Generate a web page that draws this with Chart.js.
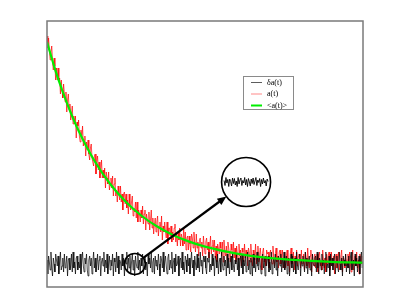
<!DOCTYPE html>
<html>
<head>
<meta charset="utf-8">
<script src="https://cdn.jsdelivr.net/npm/chart.js@4"></script>
<style>
  body { margin: 0; background: #fff; }
  canvas { display: block; }
</style>
</head>
<body>
<canvas id="c" width="400" height="300"></canvas>
<script>
// 時間軸（1点あたりの刻み）
const tStep = 2.5;

// δa(t) : ゆらぎ成分
const deltaA = [
  0.2,-0.5,0.4,0.1,-0.3,0.6,-0.2,-0.6,0.3,0.0,
  -0.4,0.5,0.2,-0.1,0.4,-0.5,0.1,0.6,-0.3,-0.1,
  0.3,-0.4,0.5,-0.2,0.0,0.4,-0.6,0.2,0.3,-0.3,
  -0.1,0.5,-0.4,0.6,-0.2,0.1,-0.5,0.3,0.4,-0.3,
  0.1,-0.2,0.5,-0.5,0.2,0.6,-0.1,-0.4,0.3,0.0,
  0.5,-0.3,-0.6,0.2,0.4,-0.1,0.3,-0.5,0.1,0.6,
  -0.2,0.3,-0.4,0.0,0.5,-0.3,0.2,0.4,-0.6,0.1,
  0.3,-0.1,0.6,-0.4,0.2,-0.2,0.5,-0.5,0.0,0.4,
  -0.3,0.2,-0.1,0.5,-0.6,0.3,0.1,-0.4,0.6,-0.2,
  0.4,-0.5,0.2,0.1,-0.3,0.5,-0.1,0.3,-0.6,0.2,
  0.0,0.6,-0.4,0.3,-0.2,0.4,-0.5,0.1,0.5,-0.3,
  0.2,-0.6,0.4,0.0,-0.2,0.6,-0.3,0.2,-0.4,0.3,
  -0.1,0.5,-0.5,0.2,0.4,-0.3,0.1,-0.6,0.5,0.0,
  0.3,-0.2,0.6,-0.4,0.1,0.3,-0.5,0.4,-0.1,0.2,
  -0.3,0.5,0.0,-0.6,0.4,0.2,-0.2,0.6,-0.4,0.1,
  0.4,-0.1,-0.5,0.3,0.5,-0.3,0.2,-0.2,0.6,-0.5,
  0.1,0.3,-0.4,0.5,-0.1,0.0,0.4,-0.6,0.2,0.3,
  -0.2,0.6,-0.3,0.1,-0.5,0.4,0.2,-0.4,0.5,-0.1,
  0.3,-0.5,0.1,0.6,-0.2,0.2,-0.6,0.4,0.0,-0.3,
  0.5,-0.2,0.3,-0.4,0.6,-0.1,0.2,-0.5,0.4,0.1,
  0.4,-0.2,-0.5,0.3,0.1,0.6,-0.4,0.0,-0.3,0.5,
  -0.1,0.3,-0.6,0.4,0.2,-0.2,0.5,-0.5,0.1,0.3,
  -0.4,0.6,0.0,-0.3,0.4,-0.1,0.2,-0.6,0.5,-0.2,
  0.3,-0.5,0.1,0.4,-0.3,0.6,-0.1,-0.4,0.2,0.0,
  0.5,-0.3,0.3,-0.6,0.1,0.4,-0.2,0.5,-0.5,0.2,
  -0.1,0.4,-0.4,0.0,0.6,-0.3,0.2,-0.5,0.3,0.1,
  -0.6,0.5,-0.2,0.3,-0.4,0.1,0.6,-0.1,-0.3,0.4,
  0.0,-0.5,0.2,0.5,-0.2,0.3,-0.6,0.4,-0.1,0.2,
  0.4,-0.4,0.1,-0.3,0.6,-0.5,0.0,0.3,-0.2,0.5,
  -0.3,0.2,-0.6,0.4,0.1,-0.1,0.5,-0.4,0.3,-0.2,
  0.6,-0.3,0.0,0.4,-0.5,0.2,0.3,-0.6,0.1,0.5,
  -0.2,0.4,-0.4,0.1,0.3,-0.5,0.6,-0.1,-0.3,0.2,
  0.5,-0.6,0.2,-0.1,0.4,0.0,-0.4,0.6,-0.2,0.3,
  -0.5,0.1,0.4,-0.3,0.2,-0.6,0.5,0.0,-0.1,0.3,
  0.4,-0.4,0.6,-0.2,-0.5,0.3,0.1,-0.3,0.5,-0.1,
  0.2,-0.5,0.3,0.6,-0.4,0.0,-0.2,0.4,-0.6,0.5,
  -0.1,0.3,-0.3,0.2,0.5,-0.5,0.1,0.4,-0.2,-0.4,
  0.6,0.0,-0.3,0.3,-0.6,0.4,0.2,-0.1,0.5,-0.4,
  0.1,-0.2,0.4,-0.5,0.3,0.6,-0.3,0.0,0.2,-0.6,
  0.5,-0.1,0.3,-0.4,0.0,0.4,-0.5,0.2,0.6,-0.2
];

// a(t) : 生データ
const aVals = [
  11.4,10.8,11.3,10.7,10.2,10.6,10.9,10.1,9.7,10.3,9.9,9.2,9.8,9.2,9.8,9.1,9.3,8.5,9.2,8.7,
  8.3,9.0,8.5,8.1,8.6,7.6,8.2,8.5,7.7,8.0,7.2,7.5,7.9,7.0,7.4,7.0,7.4,6.3,7.1,6.9,
  7.2,6.4,6.1,6.7,6.3,6.9,5.9,6.2,6.4,5.4,6.1,5.7,6.2,5.5,5.2,5.8,6.0,5.3,5.3,4.9,
  5.4,5.5,4.5,5.1,5.4,4.7,5.1,4.3,4.7,5.2,4.3,4.7,4.3,4.8,3.8,4.6,4.3,4.0,4.6,3.7,
  4.0,4.3,3.8,4.4,3.4,4.0,4.3,3.4,3.7,3.1,3.9,3.5,3.2,3.9,3.1,3.5,2.7,3.5,3.6,3.0,
  3.5,2.8,3.2,2.5,3.5,2.9,2.7,3.1,3.4,2.4,2.8,2.6,3.1,2.3,3.1,2.1,2.7,2.5,2.1,2.7,
  2.3,2.9,2.0,2.5,2.7,1.7,2.5,2.2,2.0,2.6,1.7,2.2,2.7,1.8,2.3,1.5,2.0,2.3,1.6,2.1,
  2.4,1.4,1.9,2.1,1.6,2.4,1.2,1.9,1.6,2.1,1.6,1.3,2.1,1.0,1.8,1.8,1.4,1.9,1.1,1.6,
  1.2,1.8,2.0,1.1,1.5,0.9,1.6,1.2,1.8,0.9,1.5,1.3,0.9,1.8,1.0,1.6,0.7,1.3,1.4,0.7,
  1.4,1.0,0.6,1.5,1.3,0.8,1.6,1.0,0.6,1.5,0.8,1.1,0.4,1.2,1.3,0.8,1.1,0.4,1.4,0.9,
  0.5,1.1,1.3,0.7,1.1,0.3,0.8,1.4,0.5,0.9,1.2,0.6,1.2,0.3,0.9,0.1,1.0,0.8,0.5,1.1,
  0.8,0.4,1.1,0.1,1.2,0.6,0.4,0.9,0.2,1.1,0.8,0.5,0.1,1.0,0.7,0.3,1.1,0.3,0.8,0.1,
  0.9,0.5,0.2,1.0,0.4,0.7,-0.1,0.8,0.6,0.1,1.0,0.3,0.7,0.4,-0.1,0.8,0.6,0.1,1.0,0.3,
  -0.1,0.7,0.5,0.2,1.0,0.0,0.6,0.9,0.1,0.4,0.8,0.3,-0.3,0.6,0.8,0.1,0.4,-0.1,0.7,0.5,
  0.6,-0.2,0.5,0.7,0.2,0.0,0.9,0.3,-0.1,0.5,0.8,0.1,0.4,-0.2,0.6,0.7,0.0,0.3,0.7,-0.2,
  0.1,0.6,-0.2,0.4,0.7,-0.1,0.3,-0.4,0.5,0.8,0.0,0.2,0.6,-0.3,0.4,0.1,0.7,-0.1,0.3,0.5,
  0.4,-0.2,0.7,0.0,0.2,0.5,-0.3,0.6,0.3,-0.1,0.8,0.1,-0.2,0.4,0.7,-0.4,0.5,0.1,-0.1,0.5,
  -0.2,0.2,0.5,-0.4,0.4,0.6,-0.1,0.1,-0.3,0.7,0.2,-0.2,0.3,-0.4,0.5,0.0,0.4,0.6,-0.3,0.1,
  0.6,-0.1,0.1,0.4,-0.5,0.3,0.5,-0.2,0.2,0.6,-0.3,0.0,0.4,0.7,-0.4,0.3,0.1,-0.2,0.5,-0.1,
  0.2,0.5,-0.2,0.6,0.0,-0.4,0.3,0.7,-0.3,0.1,0.4,-0.1,0.6,-0.2,0.2,-0.5,0.5,0.3,0.0,0.4
];

// <a(t)> : 平均
const meanT = [0,25,50,75,100,150,200,250,300,350,400,450,500,600,700,800,900,1000];
const meanVals = [11.1,9.76,8.6,7.57,6.66,5.16,4.0,3.1,2.4,1.86,1.44,1.12,0.87,0.52,0.31,0.19,0.11,0.07];

// 拡大図の中のゆらぎ
const insetVals = [0.3,-0.7,0.9,-0.2,0.5,-0.9,0.6,0.1,-0.8,0.8,-0.3,0.7,-0.6,0.2,-0.9,0.9,-0.4,0.4,0.8,-0.7,0.3,-0.2,0.9,-0.6,0.5,-0.9,0.7,0.0,-0.8,0.6,-0.3,0.8,-0.5,0.2,0.9,-0.7,0.4,-0.1,0.7,-0.9,0.5,-0.4,0.8,-0.2,0.3,-0.8,0.6,0.1];

// 凡例
const legendLabels = ["δa(t)", "a(t)", "<a(t)>"];

// 丸と矢印の位置（データ座標）
const zoomSpot = { t: 278, y: 0 };
const zoomView = { t: 630, y: 4.1 };

const toPoints = vals => vals.map((v, i) => ({ x: i * tStep, y: v }));

const decorPlugin = {
  id: "decor",
  afterDatasetsDraw(chart) {
    const ctx = chart.ctx;
    const a = chart.chartArea;
    const xs = chart.scales.x, ys = chart.scales.y;
    ctx.save();

    // 枠
    ctx.strokeStyle = "#7a7a7a";
    ctx.lineWidth = 1.5;
    ctx.strokeRect(a.left, a.top, a.right - a.left, a.bottom - a.top);

    // 丸
    const sx = xs.getPixelForValue(zoomSpot.t), sy = ys.getPixelForValue(zoomSpot.y);
    const bx = xs.getPixelForValue(zoomView.t), by = ys.getPixelForValue(zoomView.y);
    const r1 = 10.5, r2 = 24.5;
    ctx.strokeStyle = "#000";
    ctx.lineWidth = 1.6;
    ctx.beginPath(); ctx.arc(sx, sy, r1, 0, Math.PI * 2); ctx.stroke();
    ctx.beginPath(); ctx.arc(bx, by, r2, 0, Math.PI * 2); ctx.stroke();

    // 矢印
    const dx = bx - sx, dy = by - sy;
    const len = Math.hypot(dx, dy);
    const ux = dx / len, uy = dy / len;
    const x0 = sx + ux * r1, y0 = sy + uy * r1;
    const x1 = bx - ux * r2, y1 = by - uy * r2;
    const hl = 9, hw = 3.8;
    ctx.lineWidth = 2.2;
    ctx.beginPath(); ctx.moveTo(x0, y0); ctx.lineTo(x1 - ux * hl * 0.6, y1 - uy * hl * 0.6); ctx.stroke();
    ctx.fillStyle = "#000";
    ctx.beginPath();
    ctx.moveTo(x1, y1);
    ctx.lineTo(x1 - ux * hl - uy * hw, y1 - uy * hl + ux * hw);
    ctx.lineTo(x1 - ux * hl + uy * hw, y1 - uy * hl - ux * hw);
    ctx.closePath(); ctx.fill();

    // 拡大図
    ctx.lineWidth = 0.9;
    ctx.beginPath();
    const w = 44;
    insetVals.forEach((v, i) => {
      const px = bx - w / 2 + i * w / (insetVals.length - 1);
      const py = by - v * 5;
      if (i === 0) ctx.moveTo(px, py); else ctx.lineTo(px, py);
    });
    ctx.stroke();

    // 凡例
    const lx = a.left + 196, ly = a.top + 55;
    ctx.strokeStyle = "#8a8a8a";
    ctx.lineWidth = 1;
    ctx.strokeRect(lx + 0.5, ly + 0.5, 50, 33);
    const colors = ["#333", "#ffb0b0", "#00ee00"];
    const widths = [0.8, 1.5, 2];
    ctx.font = "8px 'Liberation Serif'";
    ctx.textBaseline = "middle";
    ctx.fillStyle = "#000";
    legendLabels.forEach((lab, i) => {
      const yy = ly + 6.5 + i * 11.5;
      ctx.strokeStyle = colors[i];
      ctx.lineWidth = widths[i];
      ctx.beginPath(); ctx.moveTo(lx + 8, yy); ctx.lineTo(lx + 19, yy); ctx.stroke();
      ctx.fillText(lab, lx + 24, yy);
    });

    ctx.restore();
  }
};

new Chart(document.getElementById("c"), {
  type: "line",
  data: {
    datasets: [{
      label: legendLabels[2],
      data: meanT.map((t, i) => ({ x: t, y: meanVals[i] })),
      borderColor: "#00ee00",
      borderWidth: 2.2,
      pointRadius: 0,
      cubicInterpolationMode: "monotone",
      order: 0
    }, {
      label: legendLabels[0],
      data: toPoints(deltaA),
      borderColor: "#000",
      borderWidth: 0.7,
      pointRadius: 0,
      tension: 0,
      order: 1
    }, {
      label: legendLabels[1],
      data: toPoints(aVals),
      borderColor: "#ff0000",
      borderWidth: 0.7,
      pointRadius: 0,
      tension: 0,
      order: 2
    }]
  },
  options: {
    responsive: false,
    animation: false,
    layout: { padding: { left: 47, top: 21, right: 37, bottom: 13 } },
    plugins: { legend: { display: false }, tooltip: { enabled: false } },
    scales: {
      x: { type: "linear", min: 0, max: 1000, display: false },
      y: { min: -1.15, max: 12.15, display: false }
    }
  },
  plugins: [decorPlugin]
});
</script>
</body>
</html>
